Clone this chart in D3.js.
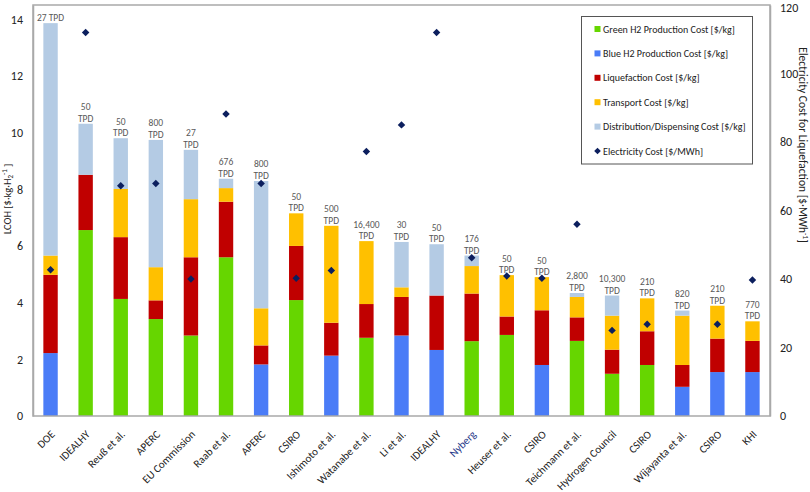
<!DOCTYPE html>
<html><head><meta charset="utf-8">
<script src="https://cdn.jsdelivr.net/npm/d3@7"></script>
<style>
html,body{margin:0;padding:0;background:#fff;}
svg text{font-family:Carlito,"Liberation Sans Narrow",Lato,"Open Sans",sans-serif;}
</style></head>
<body><svg id="c" width="810" height="492"></svg>
<script>
// ---- data ----
const categories = ["DOE","IDEALHY","Reuß et al.","APERC","EU Commission","Raab et al.","APERC","CSIRO","Ishimoto et al.","Watanabe et al.","Li et al.","IDEALHY","Nyberg","Heuser et al.","CSIRO","Teichmann et al.","Hydrogen Council","CSIRO","Wijayanta et al.","CSIRO","KHI"];
const capacityLabels = ["27 TPD","50\nTPD","50\nTPD","800\nTPD","27\nTPD","676\nTPD","800\nTPD","50\nTPD","500\nTPD","16,400\nTPD","30\nTPD","50\nTPD","176\nTPD","50\nTPD","50\nTPD","2,800\nTPD","10,300\nTPD","210\nTPD","820\nTPD","210\nTPD","770\nTPD"];
const greenProduction = [0,6.56,4.13,3.42,2.84,5.60,0,4.09,0,2.76,0,0,2.64,2.86,0,2.65,1.49,1.80,0,0,0];
const blueProduction  = [2.22,0,0,0,0,0,1.82,0,2.13,0,2.84,2.33,0,0,1.80,0,0,0,1.03,1.55,1.55];
const liquefaction    = [2.76,1.95,2.18,0.66,2.76,1.96,0.67,1.91,1.16,1.19,1.36,1.92,1.68,0.65,1.93,0.83,0.85,1.19,0.77,1.18,1.10];
const transport       = [0.68,0,1.70,1.17,2.05,0.48,1.31,1.15,3.42,2.22,0.34,0,0.97,1.46,1.17,0.72,1.20,1.16,1.74,1.16,0.69];
const distribution    = [8.20,1.80,1.79,4.49,1.74,0.33,4.49,0,0,0,1.60,1.81,0.37,0,0,0.14,0.71,0,0.18,0,0];
const electricityCost = [42.7,112.0,67.2,67.9,40.0,88.2,67.9,40.2,42.5,77.2,85.0,112.0,46.2,40.9,40.2,56.0,25.0,26.8,null,26.8,39.7];
const leftTicks = [0,2,4,6,8,10,12,14];
const rightTicks = [0,20,40,60,80,100,120];
const seriesNames = ["Green H2 Production Cost [$/kg]","Blue H2 Production Cost [$/kg]","Liquefaction Cost [$/kg]","Transport Cost [$/kg]","Distribution/Dispensing Cost [$/kg]","Electricity Cost [$/MWh]"];
const seriesColors = ["#66d600","#4a7cf7","#c00000","#ffc000","#b4cbe4","#0c1f5e"];

// ---- layout ----
const W = 810, H = 492;
const m = {l:33, r:40, t:5, b:76};
const svg = d3.select("#c");
const x = d3.scaleBand().domain(d3.range(categories.length)).range([m.l, W-m.r]).paddingInner(0.59).paddingOuter(0.295);
const y = d3.scaleLinear().domain([0,14.5]).range([H-m.b, m.t]);
const y2 = d3.scaleLinear().domain([0,120]).range([H-m.b, m.t]);

const rows = categories.map((c,i)=>({i, green:greenProduction[i], blue:blueProduction[i], liq:liquefaction[i], trans:transport[i], dist:distribution[i]}));
const keys = ["green","blue","liq","trans","dist"];
const stack = d3.stack().keys(keys)(rows);

// bars
svg.append("g").selectAll("g").data(stack).join("g")
  .attr("fill",(d,k)=>seriesColors[k])
  .selectAll("rect").data(d=>d.filter(s=>s[1]-s[0]>0)).join("rect")
  .attr("x",d=>x(d.data.i)).attr("width",x.bandwidth())
  .attr("y",d=>y(d[1])).attr("height",d=>y(d[0])-y(d[1]));

// frame
const gray="#a9a9a9";
svg.append("rect").attr("x",m.l).attr("y",m.t).attr("width",W-m.r-m.l).attr("height",H-m.b-m.t)
  .attr("fill","none").attr("stroke",gray).attr("stroke-width",1.5);

// axes
const axL = svg.append("g").attr("transform",`translate(${m.l},0)`)
  .call(d3.axisLeft(y).tickValues(leftTicks).tickSize(0).tickPadding(10));
axL.select(".domain").attr("stroke",gray).attr("stroke-width",1.5);
axL.selectAll("text").attr("font-size",12).attr("fill","#222");
const axR = svg.append("g").attr("transform",`translate(${W-m.r},0)`)
  .call(d3.axisRight(y2).tickValues(rightTicks).tickSize(0).tickPadding(10));
axR.select(".domain").attr("stroke",gray).attr("stroke-width",1.5);
axR.selectAll("text").attr("font-size",12).attr("fill","#222");
axR.selectAll(".tick").filter(d=>d===120).select("text").attr("dy","0.5em");

// capacity labels
const totals = rows.map(r=>keys.reduce((s,k)=>s+r[k],0));
const lab = svg.append("g").attr("font-size",9.5).attr("fill","#595959").attr("text-anchor","middle");
capacityLabels.forEach((t,i)=>{
  const lines = t.split("\n");
  lines.forEach((ln,j)=>{
    lab.append("text").attr("x",x(i)+x.bandwidth()/2)
      .attr("y",y(totals[i])-2-(lines.length-1-j)*11.6).text(ln);
  });
});

// electricity diamonds
const diamond = d3.symbol().type(d3.symbolSquare).size(28);
svg.append("g").selectAll("path").data(electricityCost.map((v,i)=>({v,i})).filter(d=>d.v!=null)).join("path")
  .attr("d",diamond).attr("fill",seriesColors[5])
  .attr("transform",d=>`translate(${x(d.i)+x.bandwidth()/2},${y2(d.v)}) rotate(45)`);

// x labels
svg.append("g").selectAll("text").data(categories).join("text")
  .attr("transform",(d,i)=>`translate(${x(i)+x.bandwidth()/2+5},${H-m.b+19}) rotate(-45)`)
  .attr("text-anchor","end").attr("font-size",11).attr("fill",(d,i)=>d==="Nyberg"?"#1f3a8a":"#222").text(d=>d);

// axis titles
const lt = svg.append("text").attr("transform","translate(11,199) rotate(-90)").attr("text-anchor","middle").attr("font-size",10.5).attr("fill","#222");
lt.append("tspan").text("LCOH [$·kg·H");
lt.append("tspan").attr("font-size",7).attr("dy",2).text("2");
lt.append("tspan").attr("font-size",7).attr("dy",-6).text("-1");
lt.append("tspan").attr("dy",4).text(" ]");
const rt = svg.append("text").attr("transform","translate(799,145) rotate(90)").attr("text-anchor","middle").attr("font-size",11.5).attr("fill","#222");
rt.append("tspan").text("Electricity Cost for Liquefaction [$·MWh");
rt.append("tspan").attr("font-size",7.5).attr("dy",-4).text("-1");
rt.append("tspan").attr("dy",4).text("]");

// legend
const lg = svg.append("g");
lg.append("rect").attr("x",581.5).attr("y",16.5).attr("width",171).attr("height",147.5).attr("fill","#fff").attr("stroke","#555").attr("stroke-width",1);
seriesNames.forEach((n,k)=>{
  const cy = 29 + k*24.4;
  if(k<5) lg.append("rect").attr("x",594.5).attr("y",cy-3).attr("width",6).attr("height",6).attr("fill",seriesColors[k]);
  else lg.append("path").attr("d",d3.symbol().type(d3.symbolSquare).size(22)).attr("fill",seriesColors[k]).attr("transform",`translate(597.5,${cy}) rotate(45)`);
  lg.append("text").attr("x",603).attr("y",cy+3.5).attr("font-size",10).attr("fill","#222").text(n);
});
</script></body></html>
